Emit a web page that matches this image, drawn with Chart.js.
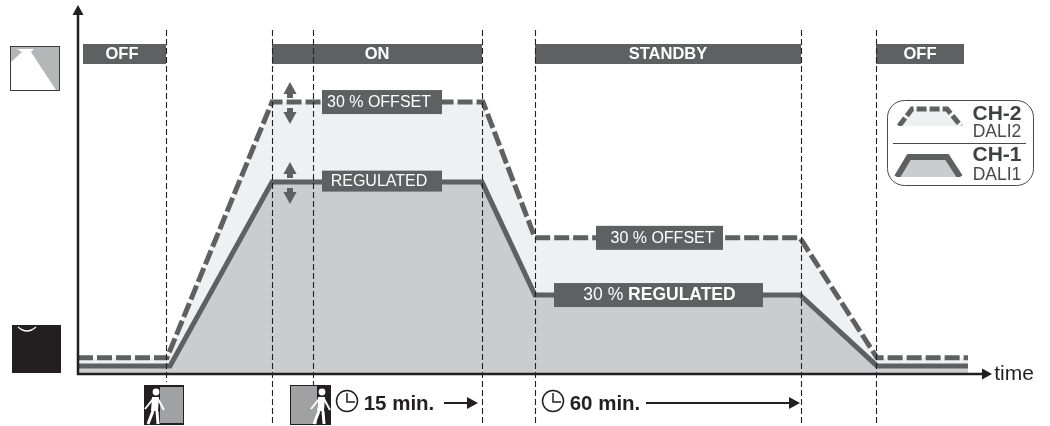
<!DOCTYPE html>
<html>
<head>
    <style>
        html, body { margin: 0; padding: 0; background: white; }
        canvas { display: block; }
    </style>
    <script src="https://cdn.jsdelivr.net/npm/chart.js"></script>
</head>
<body>
    <canvas id="chart" width="1050" height="426"></canvas>
    <script>
        // time runs 0..914 (arbitrary units), level runs 0..100 %
        const ch1Time = [0, 92, 194, 404, 457, 722, 799, 890];
        const ch1Level = [2.2, 2.2, 52, 52, 21.4, 21.4, 2.2, 2.2];
        const ch2Time = [0, 89, 194, 405, 457, 722, 799, 890];
        const ch2Level = [4.4, 4.4, 73.7, 73.7, 36.9, 36.9, 4.4, 4.4];

        const phaseNames = ["OFF", "ON", "STANDBY", "OFF"];
        const phaseFrom = [5, 194, 457, 798];
        const phaseTo = [88, 404, 723, 886];
        const markerTimes = [88, 194, 235, 404, 457, 723, 798];
        const markerEnds = [382, 426, 386, 426, 426, 426, 426];

        const DARK = "#5f6062";
        const INK = "#231f20";
        const FONT = '"Liberation Sans", Arial, sans-serif';

        function arrowHead(ctx, x, y, dx, dy, size, color) {
            ctx.fillStyle = color || INK;
            ctx.beginPath();
            ctx.moveTo(x, y);
            ctx.lineTo(x - dx * size + dy * size * 0.55, y - dy * size + dx * size * 0.55);
            ctx.lineTo(x - dx * size - dy * size * 0.55, y - dy * size - dx * size * 0.55);
            ctx.closePath();
            ctx.fill();
        }

        function label(ctx, parts, cx, y, size, color) {
            ctx.fillStyle = color || "white";
            ctx.textAlign = "left";
            ctx.textBaseline = "middle";
            let w = 0;
            for (const p of parts) {
                ctx.font = p[1] + size + "px " + FONT;
                w += ctx.measureText(p[0]).width;
            }
            let x = cx - w / 2;
            for (const p of parts) {
                ctx.font = p[1] + size + "px " + FONT;
                ctx.fillText(p[0], x, y);
                x += ctx.measureText(p[0]).width;
            }
        }

        function lineTag(ctx, parts, left, right, y, h, size, shift) {
            ctx.fillStyle = DARK;
            ctx.fillRect(left, y - h / 2, right - left, h);
            label(ctx, parts, (left + right) / 2 + shift, y + 0.5, size);
        }

        function doubleArrow(ctx, x, top, bottom) {
            arrowHead(ctx, x, top, 0, -1, 12, DARK);
            ctx.fillRect(x - 3, top + 12, 6, 4);
            arrowHead(ctx, x, bottom, 0, 1, 12, DARK);
            ctx.fillRect(x - 3, bottom - 16, 6, 4);
        }

        function walker(ctx, cx, top) {
            ctx.strokeStyle = "white";
            ctx.fillStyle = "white";
            ctx.lineCap = "butt";
            ctx.beginPath();
            ctx.arc(cx + 2, top + 6, 3.4, 0, Math.PI * 2);
            ctx.fill();
            ctx.beginPath();
            ctx.moveTo(cx - 2, top + 11);
            ctx.lineTo(cx + 5, top + 11);
            ctx.lineTo(cx + 4, top + 25);
            ctx.lineTo(cx - 3, top + 25);
            ctx.closePath();
            ctx.fill();
            ctx.lineWidth = 2;
            ctx.beginPath();
            ctx.moveTo(cx - 1, top + 13); ctx.lineTo(cx - 9, top + 23);
            ctx.moveTo(cx + 4, top + 13); ctx.lineTo(cx + 10, top + 24);
            ctx.stroke();
            ctx.lineWidth = 3;
            ctx.beginPath();
            ctx.moveTo(cx - 1, top + 25); ctx.lineTo(cx - 6, top + 38);
            ctx.moveTo(cx + 3, top + 25); ctx.lineTo(cx + 4, top + 38);
            ctx.stroke();
        }

        function clock(ctx, cx, cy) {
            ctx.strokeStyle = INK;
            ctx.lineWidth = 1.5;
            ctx.beginPath();
            ctx.arc(cx, cy, 10.5, 0, Math.PI * 2);
            ctx.stroke();
            ctx.beginPath();
            ctx.moveTo(cx, cy - 8);
            ctx.lineTo(cx, cy + 1);
            ctx.lineTo(cx + 8, cy + 1);
            ctx.stroke();
        }

        function legendIcon(ctx, pts, fill, dash, width) {
            const last = pts[pts.length - 1];
            ctx.save();
            ctx.beginPath();
            ctx.rect(890, pts[1][1] - 10, 80, last[1] - pts[1][1] + 10);
            ctx.clip();
            ctx.fillStyle = fill;
            ctx.beginPath();
            pts.forEach((p, i) => i ? ctx.lineTo(p[0], p[1]) : ctx.moveTo(p[0], p[1]));
            ctx.closePath();
            ctx.fill();
            ctx.strokeStyle = DARK;
            ctx.lineWidth = width;
            ctx.setLineDash(dash);
            ctx.beginPath();
            pts.forEach((p, i) => i ? ctx.lineTo(p[0], p[1]) : ctx.moveTo(p[0], p[1]));
            ctx.stroke();
            ctx.restore();
        }

        const decorations = {
            id: "decorations",
            afterDatasetsDraw(chart) {
                const ctx = chart.ctx;
                const xs = chart.scales.x;
                const ys = chart.scales.y;
                const area = chart.chartArea;
                ctx.save();

                // phase bars
                phaseNames.forEach((name, i) => {
                    const l = xs.getPixelForValue(phaseFrom[i]);
                    const r = xs.getPixelForValue(phaseTo[i]);
                    ctx.fillStyle = DARK;
                    ctx.fillRect(l, 44, r - l, 20);
                    label(ctx, [[name, "bold "]], (l + r) / 2 - (i === 0 ? 2.5 : 0), 54.5, 16.5);
                });

                // labels sitting on the lines
                lineTag(ctx, [["30 % OFFSET", ""]], 322, 442, ys.getPixelForValue(ch2Level[2]), 24, 16, -3);
                lineTag(ctx, [["REGULATED", ""]], 322, 442, ys.getPixelForValue(ch1Level[2]) - 1, 21, 16, -3);
                lineTag(ctx, [["30 % OFFSET", ""]], 596, 723, ys.getPixelForValue(ch2Level[4]), 24, 16, 3);
                lineTag(ctx, [["30 % ", ""], ["REGULATED", "bold "]], 554, 763, ys.getPixelForValue(ch1Level[4]), 24, 17.5, 1);

                doubleArrow(ctx, 290, 82, 124);
                doubleArrow(ctx, 290, 162, 204);

                // axes
                ctx.strokeStyle = INK;
                ctx.lineWidth = 2.5;
                ctx.beginPath();
                ctx.moveTo(area.left, 14);
                ctx.lineTo(area.left, area.bottom);
                ctx.lineTo(982, area.bottom);
                ctx.stroke();
                arrowHead(ctx, area.left, 5, 0, -1, 10);
                arrowHead(ctx, 992, area.bottom, 1, 0, 10);
                label(ctx, [["time", ""]], 1014, area.bottom, 21, INK);

                // lamp icons
                ctx.fillStyle = "#b5b6b8";
                ctx.fillRect(10, 46, 50, 45);
                ctx.fillStyle = "white";
                ctx.beginPath();
                ctx.moveTo(17, 49); ctx.lineTo(34, 49); ctx.lineTo(31, 52); ctx.lineTo(56, 90);
                ctx.lineTo(11, 90); ctx.lineTo(11, 62); ctx.lineTo(22, 52);
                ctx.closePath();
                ctx.fill();
                ctx.strokeStyle = "#3a3a3c";
                ctx.lineWidth = 1;
                ctx.strokeRect(10.5, 46.5, 49, 44);

                ctx.fillStyle = INK;
                ctx.fillRect(12, 325, 49, 48);
                ctx.strokeStyle = "white";
                ctx.lineWidth = 1.2;
                ctx.beginPath();
                ctx.moveTo(18, 327);
                ctx.quadraticCurveTo(27, 335, 36, 327);
                ctx.stroke();

                // door icons
                ctx.fillStyle = INK;
                ctx.fillRect(144, 385, 40, 40);
                ctx.fillStyle = "#a0a1a3";
                ctx.fillRect(160, 387, 23, 36);
                walker(ctx, 154, 386);
                ctx.fillStyle = INK;
                ctx.fillRect(290, 385, 41, 40);
                ctx.fillStyle = "#a0a1a3";
                ctx.fillRect(291, 386, 26, 38);
                walker(ctx, 320, 386);

                // marker lines
                ctx.strokeStyle = INK;
                ctx.lineWidth = 1.1;
                ctx.setLineDash([6, 3]);
                markerTimes.forEach((t, i) => {
                    const x = Math.round(xs.getPixelForValue(t)) + 0.5;
                    ctx.beginPath();
                    ctx.moveTo(x, 30);
                    ctx.lineTo(x, markerEnds[i]);
                    ctx.stroke();
                });
                ctx.setLineDash([]);

                // timers
                clock(ctx, 347, 401);
                label(ctx, [["15 min.", "bold "]], 399, 404, 20.5, INK);
                ctx.strokeStyle = INK;
                ctx.lineWidth = 2;
                ctx.beginPath(); ctx.moveTo(444, 403); ctx.lineTo(468, 403); ctx.stroke();
                arrowHead(ctx, 478, 403, 1, 0, 11);
                clock(ctx, 553, 401);
                label(ctx, [["60 min.", "bold "]], 605, 404, 20.5, INK);
                ctx.strokeStyle = INK;
                ctx.lineWidth = 2;
                ctx.beginPath(); ctx.moveTo(646, 403); ctx.lineTo(790, 403); ctx.stroke();
                arrowHead(ctx, 800, 403, 1, 0, 11);

                // legend box
                ctx.fillStyle = "white";
                ctx.strokeStyle = "#4a4a4c";
                ctx.lineWidth = 1;
                ctx.beginPath();
                ctx.roundRect(887.5, 100.5, 146, 85, 17);
                ctx.fill();
                ctx.stroke();
                ctx.beginPath();
                ctx.moveTo(893, 143.5);
                ctx.lineTo(1026, 143.5);
                ctx.stroke();
                legendIcon(ctx, [[899, 126], [912, 109], [947, 109], [961, 126]], "#eff0f2", [10, 3], 5);
                legendIcon(ctx, [[897, 177], [909, 157], [947, 157], [960, 177]], "#cbcccd", [], 6);
                label(ctx, [["CH-2", "bold "]], 997, 114, 21, "#3f4042");
                label(ctx, [["DALI2", ""]], 997, 132, 17.5, "#4a4a4c");
                label(ctx, [["CH-1", "bold "]], 997, 155, 21, "#3f4042");
                label(ctx, [["DALI1", ""]], 997, 175, 17.5, "#4a4a4c");

                ctx.restore();
            }
        };

        new Chart(document.getElementById("chart").getContext("2d"), {
            type: "line",
            data: {
                datasets: [
                    {
                        label: "CH-1 DALI1",
                        data: ch1Time.map((t, i) => ({ x: t, y: ch1Level[i] })),
                        borderColor: DARK,
                        borderWidth: 5,
                        backgroundColor: "#cbcccd",
                        fill: "origin",
                        pointRadius: 0,
                        tension: 0
                    },
                    {
                        label: "CH-2 DALI2",
                        data: ch2Time.map((t, i) => ({ x: t, y: ch2Level[i] })),
                        borderColor: DARK,
                        borderWidth: 5,
                        borderDash: [15, 4],
                        backgroundColor: "#eff0f2",
                        fill: "origin",
                        pointRadius: 0,
                        tension: 0
                    }
                ]
            },
            options: {
                responsive: false,
                animation: false,
                layout: { padding: { left: 78, right: 58, top: 5, bottom: 52 } },
                plugins: { legend: { display: false }, tooltip: { enabled: false } },
                scales: {
                    x: { type: "linear", min: 0, max: 914, display: false },
                    y: { min: 0, max: 100, display: false }
                }
            },
            plugins: [decorations]
        });
    </script>
</body>
</html>
